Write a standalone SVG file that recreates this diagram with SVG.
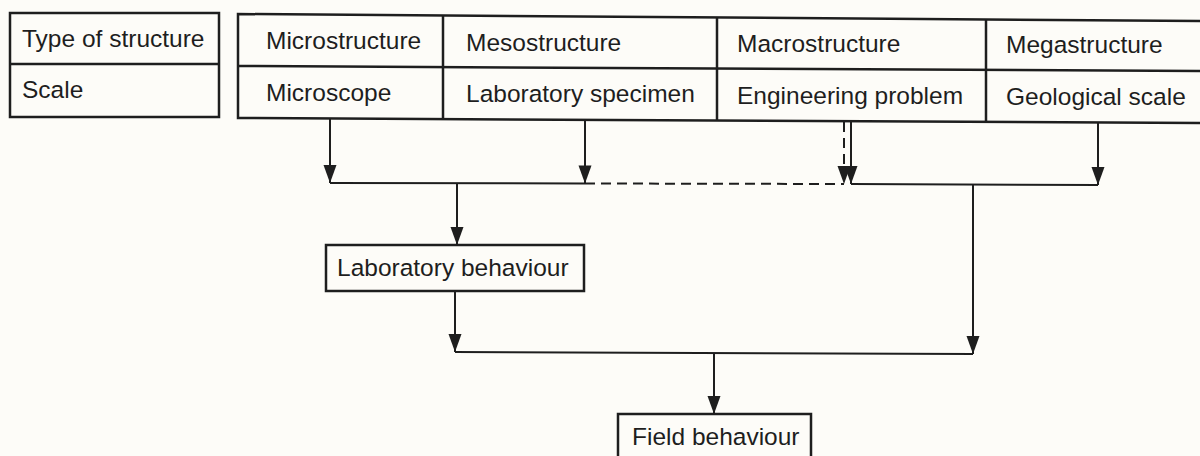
<svg xmlns="http://www.w3.org/2000/svg" width="1200" height="456" viewBox="0 0 1200 456">
<defs>
<style>
.box{fill:none;stroke:#1e1e1e;stroke-width:2.5}
.t{font-family:"Liberation Sans",Arial,sans-serif;font-size:24.5px;fill:#1e1e1e}
.c{fill:none;stroke:#1e1e1e;stroke-width:2}
.d{stroke-dasharray:10 6}
</style>
<marker id="arr" markerUnits="userSpaceOnUse" markerWidth="20" markerHeight="16" refX="18" refY="7" orient="auto" overflow="visible">
<path d="M0,0.5 L18,7 L0,13.5 Z" fill="#1e1e1e"/>
</marker>
</defs>
<rect width="1200" height="456" fill="#fdfcf8"/>
<g id="legend">
<rect class="box" x="10" y="13" width="209" height="104"/>
<line class="box" x1="10" y1="64" x2="219" y2="64"/>
<text class="t" x="22" y="47">Type of structure</text>
<text class="t" x="22" y="98">Scale</text>
</g>
<g id="table">
<path class="box" d="M1206,21 L238,14 L238,118 L1206,123"/>
<line class="box" x1="238" y1="66" x2="1206" y2="71"/>
<line class="box" x1="443" y1="15.5" x2="443" y2="119"/>
<line class="box" x1="717" y1="17.5" x2="717" y2="120.5"/>
<line class="box" x1="986" y1="19.5" x2="986" y2="122"/>
</g>
<g id="micro">
<text class="t" x="266" y="49">Microstructure</text>
<text class="t" x="266" y="101">Microscope</text>
</g>
<g id="meso">
<text class="t" x="466" y="51">Mesostructure</text>
<text class="t" x="466" y="102">Laboratory specimen</text>
</g>
<g id="macro">
<text class="t" x="737" y="52">Macrostructure</text>
<text class="t" x="737" y="104">Engineering problem</text>
</g>
<g id="mega">
<text class="t" x="1006" y="53">Megastructure</text>
<text class="t" x="1006" y="105">Geological scale</text>
</g>
<g id="lab">
<rect class="box" x="326" y="245" width="258" height="46"/>
<text class="t" x="337" y="276">Laboratory behaviour</text>
</g>
<g id="field">
<rect class="box" x="618" y="414" width="193" height="60"/>
<text class="t" x="632" y="445">Field behaviour</text>
</g>
<g id="connectors">
<line class="c" x1="330" y1="118.5" x2="330" y2="183" marker-end="url(#arr)"/>
<line class="c" x1="585" y1="120" x2="585" y2="183.5" marker-end="url(#arr)"/>
<line class="c" x1="330" y1="183" x2="585" y2="183.5"/>
<line class="c d" x1="585" y1="183.5" x2="844" y2="184"/>
<line class="c d" x1="844" y1="122" x2="844" y2="184" marker-end="url(#arr)"/>
<line class="c" x1="851" y1="122" x2="851" y2="184" marker-end="url(#arr)"/>
<line class="c" x1="851" y1="184" x2="1098" y2="185"/>
<line class="c" x1="1098" y1="123" x2="1098" y2="185" marker-end="url(#arr)"/>
<line class="c" x1="457" y1="183" x2="457" y2="245" marker-end="url(#arr)"/>
<line class="c" x1="455" y1="291" x2="455" y2="352" marker-end="url(#arr)"/>
<line class="c" x1="455" y1="352" x2="973" y2="354"/>
<line class="c" x1="973" y1="184.5" x2="973" y2="354" marker-end="url(#arr)"/>
<line class="c" x1="714" y1="353" x2="714" y2="414" marker-end="url(#arr)"/>
</g>
</svg>
